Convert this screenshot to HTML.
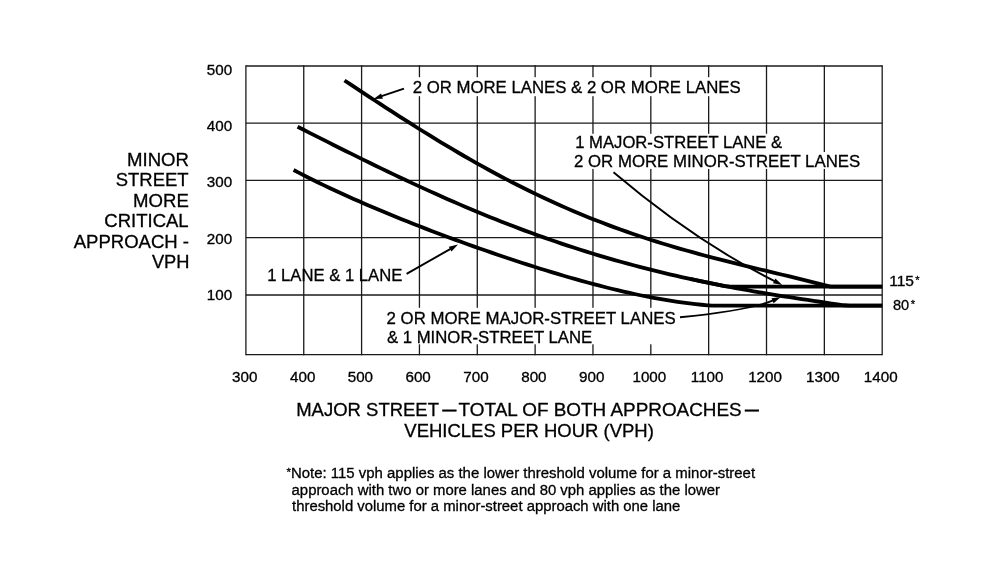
<!DOCTYPE html>
<html lang="en"><head><meta charset="utf-8"><title>Warrant 2, Four-Hour Vehicular Volume</title>
<style>
html,body{margin:0;padding:0;background:#fff}
svg{display:block}
text{font-family:"Liberation Sans",sans-serif;fill:#000;stroke:#000;stroke-width:0.3px;white-space:pre}
</style></head><body>
<svg width="1000" height="569" viewBox="0 0 1000 569">
<rect width="1000" height="569" fill="#fff"/>
<line x1="245.90" y1="65.35" x2="245.90" y2="355.35" stroke="#1a1a1a" stroke-width="1.3"/>
<line x1="303.75" y1="65.35" x2="303.75" y2="355.35" stroke="#1a1a1a" stroke-width="1.3"/>
<line x1="361.59" y1="65.35" x2="361.59" y2="355.35" stroke="#1a1a1a" stroke-width="1.3"/>
<line x1="419.44" y1="65.35" x2="419.44" y2="355.35" stroke="#1a1a1a" stroke-width="1.3"/>
<line x1="477.28" y1="65.35" x2="477.28" y2="355.35" stroke="#1a1a1a" stroke-width="1.3"/>
<line x1="535.13" y1="65.35" x2="535.13" y2="355.35" stroke="#1a1a1a" stroke-width="1.3"/>
<line x1="592.97" y1="65.35" x2="592.97" y2="355.35" stroke="#1a1a1a" stroke-width="1.3"/>
<line x1="650.82" y1="65.35" x2="650.82" y2="355.35" stroke="#1a1a1a" stroke-width="1.3"/>
<line x1="708.66" y1="65.35" x2="708.66" y2="355.35" stroke="#1a1a1a" stroke-width="1.3"/>
<line x1="766.51" y1="65.35" x2="766.51" y2="355.35" stroke="#1a1a1a" stroke-width="1.3"/>
<line x1="824.35" y1="65.35" x2="824.35" y2="355.35" stroke="#1a1a1a" stroke-width="1.3"/>
<line x1="882.20" y1="65.35" x2="882.20" y2="355.35" stroke="#1a1a1a" stroke-width="1.3"/>
<line x1="245.90" y1="66.0" x2="882.20" y2="66.0" stroke="#1a1a1a" stroke-width="1.3"/>
<line x1="245.90" y1="123.2" x2="882.20" y2="123.2" stroke="#1a1a1a" stroke-width="1.3"/>
<line x1="245.90" y1="180.4" x2="882.20" y2="180.4" stroke="#1a1a1a" stroke-width="1.3"/>
<line x1="245.90" y1="237.7" x2="882.20" y2="237.7" stroke="#1a1a1a" stroke-width="1.3"/>
<line x1="245.90" y1="295.0" x2="882.20" y2="295.0" stroke="#1a1a1a" stroke-width="1.3"/>
<line x1="245.90" y1="354.7" x2="882.20" y2="354.7" stroke="#1a1a1a" stroke-width="1.3"/>
<rect x="409" y="77.2" width="336" height="19.0" fill="#fff"/>
<rect x="572" y="133.8" width="213" height="18.4" fill="#fff"/>
<rect x="572" y="152.0" width="291" height="16.9" fill="#fff"/>
<rect x="384" y="307.8" width="294" height="36.5" fill="#fff"/>
<path d="M344.5,80.46 L350.5,84.43 L356.5,88.40 L362.5,92.36 L368.5,96.31 L374.5,100.25 L380.5,104.17 L386.5,108.07 L392.5,111.96 L398.5,115.82 L404.5,119.66 L410.5,123.47 L416.5,127.25 L422.5,131.00 L428.5,134.72 L434.5,138.40 L440.5,142.05 L446.5,145.66 L452.5,149.23 L458.5,152.76 L464.5,156.24 L470.5,159.69 L476.5,163.09 L482.5,166.44 L488.5,169.74 L494.5,173.00 L500.5,176.21 L506.5,179.37 L512.5,182.48 L518.5,185.54 L524.5,188.55 L530.5,191.50 L536.5,194.40 L542.5,197.25 L548.5,200.05 L554.5,202.80 L560.5,205.49 L566.5,208.13 L572.5,210.71 L578.5,213.24 L584.5,215.72 L590.5,218.15 L596.5,220.53 L602.5,222.85 L608.5,225.13 L614.5,227.35 L620.5,229.53 L626.5,231.66 L632.5,233.74 L638.5,235.77 L644.5,237.76 L650.5,239.70 L656.5,241.61 L662.5,243.47 L668.5,245.29 L674.5,247.07 L680.5,248.81 L686.5,250.52 L692.5,252.20 L698.5,253.84 L704.5,255.46 L710.5,257.04 L716.5,258.61 L722.5,260.14 L728.5,261.66 L734.5,263.16 L740.5,264.64 L746.5,266.11 L752.5,267.56 L758.5,269.01 L764.5,270.45 L770.5,271.89 L776.5,273.32 L782.5,274.76 L788.5,276.21 L794.5,277.66 L800.5,279.13 L806.5,280.61 L812.5,282.11 L818.5,283.64 L824.5,285.19 L830.5,286.60 L832.0,286.60 L882.2,286.60" fill="none" stroke="#000" stroke-width="3.8" stroke-linejoin="round"/>
<path d="M297.6,126.76 L303.6,129.80 L309.6,132.84 L315.6,135.87 L321.6,138.90 L327.6,141.92 L333.6,144.94 L339.6,147.94 L345.6,150.94 L351.6,153.92 L357.6,156.89 L363.6,159.85 L369.6,162.79 L375.6,165.71 L381.6,168.62 L387.6,171.51 L393.6,174.38 L399.6,177.23 L405.6,180.05 L411.6,182.86 L417.6,185.64 L423.6,188.39 L429.6,191.13 L435.6,193.83 L441.6,196.51 L447.6,199.16 L453.6,201.78 L459.6,204.38 L465.6,206.94 L471.6,209.48 L477.6,211.98 L483.6,214.46 L489.6,216.90 L495.6,219.31 L501.6,221.68 L507.6,224.03 L513.6,226.34 L519.6,228.62 L525.6,230.86 L531.6,233.07 L537.6,235.24 L543.6,237.39 L549.6,239.49 L555.6,241.56 L561.6,243.60 L567.6,245.60 L573.6,247.56 L579.6,249.49 L585.6,251.39 L591.6,253.25 L597.6,255.07 L603.6,256.86 L609.6,258.61 L615.6,260.33 L621.6,262.02 L627.6,263.67 L633.6,265.29 L639.6,266.87 L645.6,268.43 L651.6,269.94 L657.6,271.43 L663.6,272.89 L669.6,274.31 L675.6,275.70 L681.6,277.06 L687.6,278.39 L693.6,279.70 L699.6,280.97 L705.6,282.22 L711.6,283.44 L717.6,284.63 L723.6,285.80 L729.6,286.94 L735.6,288.06 L741.6,289.15 L747.6,290.23 L753.6,291.28 L759.6,292.31 L765.6,293.32 L771.6,294.32 L777.6,295.30 L783.6,296.26 L789.6,297.20 L795.6,298.14 L801.6,299.06 L807.6,299.97 L813.6,300.86 L819.6,301.75 L825.6,302.64 L831.6,303.51 L837.6,304.39 L843.6,305.26 L849.6,305.70 L851.0,305.70 L882.2,305.70" fill="none" stroke="#000" stroke-width="3.8" stroke-linejoin="round"/>
<path d="M293.6,170.06 L299.6,173.18 L305.6,176.23 L311.6,179.23 L317.6,182.18 L323.6,185.09 L329.6,187.94 L335.6,190.75 L341.6,193.52 L347.6,196.24 L353.6,198.93 L359.6,201.58 L365.6,204.19 L371.6,206.77 L377.6,209.32 L383.6,211.83 L389.6,214.31 L395.6,216.77 L401.6,219.19 L407.6,221.59 L413.6,223.96 L419.6,226.30 L425.6,228.62 L431.6,230.92 L437.6,233.19 L443.6,235.44 L449.6,237.67 L455.6,239.88 L461.6,242.06 L467.6,244.22 L473.6,246.36 L479.6,248.48 L485.6,250.58 L491.6,252.65 L497.6,254.71 L503.6,256.74 L509.6,258.75 L515.6,260.73 L521.6,262.70 L527.6,264.64 L533.6,266.55 L539.6,268.44 L545.6,270.30 L551.6,272.14 L557.6,273.94 L563.6,275.72 L569.6,277.46 L575.6,279.18 L581.6,280.86 L587.6,282.51 L593.6,284.12 L599.6,285.69 L605.6,287.22 L611.6,288.72 L617.6,290.17 L623.6,291.57 L629.6,292.93 L635.6,294.24 L641.6,295.50 L647.6,296.70 L653.6,297.85 L659.6,298.94 L665.6,299.97 L671.6,300.94 L677.6,301.85 L683.6,302.68 L689.6,303.44 L695.6,304.13 L701.6,304.75 L707.6,305.28 L712.0,305.70 L882.2,305.70" fill="none" stroke="#000" stroke-width="3.8" stroke-linejoin="round"/>
<path d="M690.0,278.92 L695.0,280.00 L700.0,281.06 L705.0,282.09 L710.0,283.11 L715.0,284.12 L720.0,285.10 L725.0,286.07 L730.0,286.60 L735.0,286.60 L740.0,286.60 L745.0,286.60 L750.0,286.60 L755.0,286.60 L760.0,286.60 L765.0,286.60 L882.2,286.60" fill="none" stroke="#000" stroke-width="3.8" stroke-linejoin="round"/>
<line x1="404.0" y1="88.6" x2="380.1" y2="96.7" stroke="#000" stroke-width="1.9"/>
<polygon points="373.5,99.0 381.1,93.5 382.9,98.7" fill="#000"/>
<line x1="406.6" y1="273.8" x2="451.9" y2="248.1" stroke="#000" stroke-width="1.9"/>
<polygon points="458.0,244.6 451.5,251.4 448.8,246.7" fill="#000"/>
<path d="M613.5,172.3 Q695.0,241.5 776.0,281.8" fill="none" stroke="#000" stroke-width="1.9"/>
<polygon points="782.3,284.9 773.0,283.3 775.4,278.5" fill="#000"/>
<path d="M680,317.3 Q750.8,310.2 774.4,299.9" fill="none" stroke="#000" stroke-width="1.9"/>
<polygon points="780.8,297.1 773.6,303.2 771.5,298.2" fill="#000"/>
<text x="206.86" y="75.2" font-size="14.0" textLength="25.34" lengthAdjust="spacingAndGlyphs">500</text>
<text x="206.86" y="131.1" font-size="14.0" textLength="25.34" lengthAdjust="spacingAndGlyphs">400</text>
<text x="206.86" y="186.9" font-size="14.0" textLength="25.34" lengthAdjust="spacingAndGlyphs">300</text>
<text x="206.86" y="243.6" font-size="14.0" textLength="25.34" lengthAdjust="spacingAndGlyphs">200</text>
<text x="206.86" y="300.0" font-size="14.0" textLength="25.34" lengthAdjust="spacingAndGlyphs">100</text>
<text x="232.07" y="381.8" font-size="14.0" textLength="25.34" lengthAdjust="spacingAndGlyphs">300</text>
<text x="290.00" y="381.8" font-size="14.0" textLength="25.34" lengthAdjust="spacingAndGlyphs">400</text>
<text x="347.69" y="381.8" font-size="14.0" textLength="25.34" lengthAdjust="spacingAndGlyphs">500</text>
<text x="405.46" y="381.8" font-size="14.0" textLength="25.34" lengthAdjust="spacingAndGlyphs">600</text>
<text x="463.30" y="381.8" font-size="14.0" textLength="25.34" lengthAdjust="spacingAndGlyphs">700</text>
<text x="521.23" y="381.8" font-size="14.0" textLength="25.34" lengthAdjust="spacingAndGlyphs">800</text>
<text x="579.07" y="381.8" font-size="14.0" textLength="25.34" lengthAdjust="spacingAndGlyphs">900</text>
<text x="632.47" y="381.8" font-size="14.0" textLength="33.79" lengthAdjust="spacingAndGlyphs">1000</text>
<text x="690.87" y="381.8" font-size="14.0" textLength="32.66" lengthAdjust="spacingAndGlyphs">1100</text>
<text x="748.16" y="381.8" font-size="14.0" textLength="33.79" lengthAdjust="spacingAndGlyphs">1200</text>
<text x="806.00" y="381.8" font-size="14.0" textLength="33.79" lengthAdjust="spacingAndGlyphs">1300</text>
<text x="863.85" y="381.8" font-size="14.0" textLength="33.79" lengthAdjust="spacingAndGlyphs">1400</text>
<text x="889.21" y="286.1" font-size="14.0" textLength="24.75" lengthAdjust="spacingAndGlyphs">115</text>
<text x="892.92" y="310.2" font-size="14.0" textLength="16.21" lengthAdjust="spacingAndGlyphs">80</text>
<text x="915.2" y="283.9" font-size="11">*</text>
<text x="910.8" y="307.6" font-size="11">*</text>
<text x="127.01" y="165.9" font-size="18.4" textLength="61.97" lengthAdjust="spacingAndGlyphs">MINOR</text>
<text x="115.76" y="186.4" font-size="18.4" textLength="72.82" lengthAdjust="spacingAndGlyphs">STREET</text>
<text x="133.11" y="206.9" font-size="18.4" textLength="55.78" lengthAdjust="spacingAndGlyphs">MORE</text>
<text x="104.27" y="227.4" font-size="18.4" textLength="84.41" lengthAdjust="spacingAndGlyphs">CRITICAL</text>
<text x="73.70" y="247.9" font-size="18.4" textLength="115.30" lengthAdjust="spacingAndGlyphs">APPROACH -</text>
<text x="151.90" y="268.4" font-size="18.4" textLength="37.62" lengthAdjust="spacingAndGlyphs">VPH</text>
<text x="296.22" y="416.25" font-size="18.5" textLength="142.76" lengthAdjust="spacingAndGlyphs">MAJOR STREET</text>
<text x="442.5" y="414.9" font-size="18.5" textLength="13.75" lengthAdjust="spacingAndGlyphs" style="stroke-width:0.7px">—</text>
<text x="458.62" y="416.25" font-size="18.5" textLength="283.07" lengthAdjust="spacingAndGlyphs">TOTAL OF BOTH APPROACHES</text>
<text x="745" y="414.9" font-size="18.5" textLength="13.75" lengthAdjust="spacingAndGlyphs" style="stroke-width:0.7px">—</text>
<text x="404.30" y="436.5" font-size="18.5" textLength="249.58" lengthAdjust="spacingAndGlyphs">VEHICLES PER HOUR (VPH)</text>
<text x="286.6" y="475.9" font-size="11.5">*</text>
<text x="290.90" y="478.25" font-size="14.9" textLength="464.16" lengthAdjust="spacingAndGlyphs">Note: 115 vph applies as the lower threshold volume for a minor-street</text>
<text x="291.60" y="494.5" font-size="14.9" textLength="428.39" lengthAdjust="spacingAndGlyphs">approach with two or more lanes and 80 vph applies as the lower</text>
<text x="292.05" y="510.6" font-size="14.9" textLength="388.29" lengthAdjust="spacingAndGlyphs">threshold volume for a minor-street approach with one lane</text>
<text x="412.66" y="92.7" font-size="16.7" textLength="327.96" lengthAdjust="spacingAndGlyphs">2 OR MORE LANES &amp; 2 OR MORE LANES</text>
<text x="575.24" y="148.3" font-size="16.7" textLength="206.88" lengthAdjust="spacingAndGlyphs">1 MAJOR-STREET LANE &amp;</text>
<text x="574.06" y="167.0" font-size="16.7" textLength="286.16" lengthAdjust="spacingAndGlyphs">2 OR MORE MINOR-STREET LANES</text>
<text x="267.13" y="281.0" font-size="16.7" textLength="135.18" lengthAdjust="spacingAndGlyphs">1 LANE &amp; 1 LANE</text>
<text x="386.56" y="324.0" font-size="16.7" textLength="289.16" lengthAdjust="spacingAndGlyphs">2 OR MORE MAJOR-STREET LANES</text>
<text x="386.90" y="342.9" font-size="16.7" textLength="205.32" lengthAdjust="spacingAndGlyphs">&amp; 1 MINOR-STREET LANE</text>
</svg>
</body></html>
